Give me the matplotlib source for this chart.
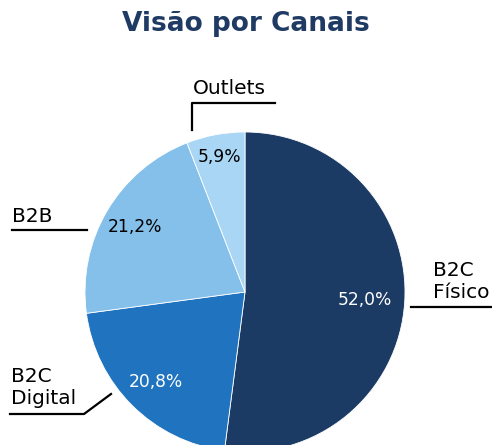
import numpy as np
import matplotlib.pyplot as plt

canais = ['B2C\nFísico', 'B2C\nDigital', 'B2B', 'Outlets']
valores = [52.0, 20.8, 21.2, 5.9]
cores = ['#1c3b64', '#1f73bf', '#85c0eb', '#a8d6f4']
cor_pct = ['white', 'white', 'black', 'black']

W, H = 492, 445
fig = plt.figure(figsize=(W / 100, H / 100), dpi=100)
ax = fig.add_axes([0, 0, 1, 1])

def py(y):
    # pixel row (from top) -> data y
    return H - y

cx, cy, r = 245, py(292), 160
wedges, _ = ax.pie(valores, colors=cores, startangle=90, counterclock=False,
                   center=(cx, cy), radius=r, normalize=True,
                   wedgeprops=dict(linewidth=0.6, edgecolor='white'))

# percent labels inside the slices
dist = [0.75, 0.79, 0.80, 0.86]
for w, v, d, c in zip(wedges, valores, dist, cor_pct):
    ang = np.deg2rad((w.theta1 + w.theta2) / 2)
    ax.text(cx + d * r * np.cos(ang), cy + d * r * np.sin(ang),
            f'{v:.1f}%'.replace('.', ','), ha='center', va='center',
            fontsize=12.3, color=c, family='DejaVu Sans')

lab = dict(fontsize=14.5, color='black', family='DejaVu Sans', linespacing=1.2)
lk = dict(color='black', lw=1.6)

# B2C Físico
ax.text(433, py(281), canais[0], ha='left', va='center', **lab)
ax.plot([411, 492], [py(307), py(307)], **lk)
# B2C Digital
ax.text(11, py(387), canais[1], ha='left', va='center', **lab)
ax.plot([10, 84, 111], [py(414), py(414), py(394)], **lk)
# B2B
ax.text(12, py(216), canais[2], ha='left', va='center', **lab)
ax.plot([12, 87], [py(230), py(230)], **lk)
# Outlets
ax.text(193, py(89), canais[3], ha='left', va='center', **lab)
ax.plot([192, 192, 275], [py(130), py(103), py(103)], **lk)

ax.text(W / 2, py(24), 'Visão por Canais', ha='center', va='center',
        fontsize=19, fontweight='bold', color='#1f3b63', family='DejaVu Sans')

ax.set_xlim(0, W)
ax.set_ylim(0, H)
ax.axis('off')
fig.savefig('out.png', dpi=100)
